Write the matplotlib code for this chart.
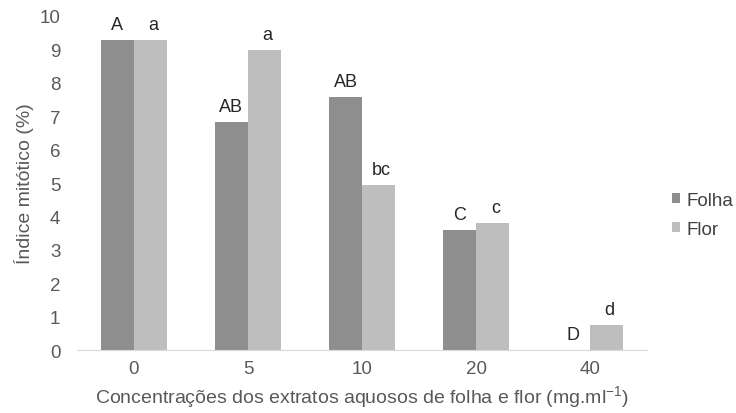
import numpy as np
import matplotlib.pyplot as plt

plt.rcParams['font.family'] = ['Liberation Sans', 'DejaVu Sans']

# concentracoes (mg/ml) e indice mitotico (%)
concentracoes = ['0', '5', '10', '20', '40']
folha = [9.27, 6.83, 7.58, 3.59, 0.0]
flor = [9.27, 8.97, 4.95, 3.81, 0.75]
letras_folha = ['A', 'AB', 'AB', 'C', 'D']
letras_flor = ['a', 'a', 'bc', 'c', 'd']

fig = plt.figure(figsize=(7.36, 4.14), dpi=100)
ax = fig.add_axes([0.1046, 0.152, 0.7745, 0.807])

x = np.arange(len(concentracoes))
w = 0.29

b1 = ax.bar(x - w / 2, folha, w, color='#8e8e8e', label='Folha')
b2 = ax.bar(x + w / 2, flor, w, color='#bebebe', label='Flor')

# letras de significancia acima das barras
for xi, v, t in zip(x, folha, letras_folha):
    ax.annotate(t, (xi - w / 2, v), xytext=(0, 5), textcoords='offset points',
                ha='center', va='bottom', fontsize=13, color='#262626')
for xi, v, t in zip(x, flor, letras_flor):
    ax.annotate(t, (xi + w / 2, v), xytext=(2, 5), textcoords='offset points',
                ha='center', va='bottom', fontsize=13, color='#262626')

ax.set_xlim(-0.5, len(concentracoes) - 0.5)
ax.set_ylim(0, 10)
ax.set_yticks(range(0, 11))
ax.set_xticks(x)
ax.set_xticklabels(concentracoes)

for s in ['top', 'right', 'left']:
    ax.spines[s].set_visible(False)
ax.spines['bottom'].set_color('#d9d9d9')
ax.tick_params(axis='both', length=0, labelsize=13.5, labelcolor='#595959')
ax.tick_params(axis='y', pad=12)
ax.tick_params(axis='x', pad=7.5)

ax.set_xlabel('Concentrações dos extratos aquosos de folha e flor (mg.ml$^{\\mathregular{-1}}$)',
              fontsize=14, color='#595959', labelpad=4)
ax.set_ylabel('Índice mitótico (%)', fontsize=14, color='#595959', labelpad=4)

fig.legend(handles=[b1, b2], loc='center left', bbox_to_anchor=(0.913, 0.479),
           frameon=False, fontsize=13.5, labelcolor='#404040', borderpad=0,
           borderaxespad=0, handlelength=0.43, handleheight=0.43,
           handletextpad=0.32, labelspacing=0.65)

fig.savefig('out.png', dpi=100)
